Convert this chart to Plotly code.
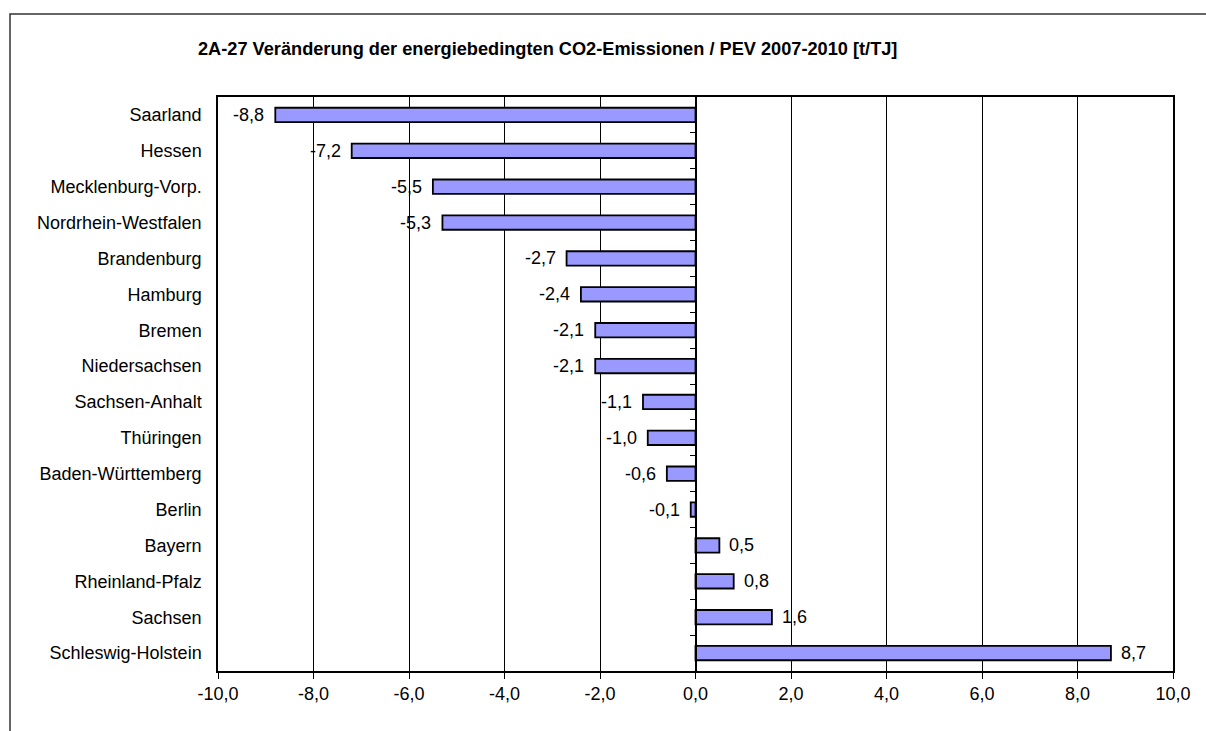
import plotly.graph_objects as go

# Federal states, top to bottom
laender = [
    "Saarland", "Hessen", "Mecklenburg-Vorp.", "Nordrhein-Westfalen",
    "Brandenburg", "Hamburg", "Bremen", "Niedersachsen", "Sachsen-Anhalt",
    "Thüringen", "Baden-Württemberg", "Berlin", "Bayern", "Rheinland-Pfalz",
    "Sachsen", "Schleswig-Holstein",
]
# Change of energy-related CO2 emissions per PEV 2007-2010 [t/TJ]
veraenderung = [
    -8.8, -7.2, -5.5, -5.3, -2.7, -2.4, -2.1, -2.1, -1.1,
    -1.0, -0.6, -0.1, 0.5, 0.8, 1.6, 8.7,
]
x_ticks = [-10, -8, -6, -4, -2, 0, 2, 4, 6, 8, 10]

title = "2A-27 Veränderung der energiebedingten CO2-Emissionen / PEV 2007-2010 [t/TJ]"


def de(v):
    return f"{v:.1f}".replace(".", ",")


W, H = 1206, 731
ML, MR, MT, MB = 218, 33, 97, 60
FONT = "Liberation Sans, Arial, sans-serif"

fig = go.Figure()
fig.add_trace(go.Bar(
    y=laender, x=veraenderung, orientation="h", width=0.4,
    marker=dict(color="#9999FF", line=dict(color="#000000", width=1.8)),
    hoverinfo="x+y", showlegend=False,
))
# empty trace so the axis through x = 0 gets its own subplot
fig.add_trace(go.Scatter(x=[], y=[], yaxis="y2", showlegend=False,
                         hoverinfo="skip"))

# value labels beside each bar end
for name, v in zip(laender, veraenderung):
    fig.add_annotation(
        x=v, y=name, text=de(v), showarrow=False,
        xanchor="right" if v < 0 else "left",
        xshift=-9 if v < 0 else 8,
        font=dict(family=FONT, size=18, color="#000000"),
    )

n = len(laender)
fig.update_layout(
    width=W, height=H,
    margin=dict(l=ML, r=MR, t=MT, b=MB),
    paper_bgcolor="white", plot_bgcolor="white",
    font=dict(family=FONT, size=18, color="#000000"),
    title=dict(
        text=title, xref="container", yref="container",
        x=198 / W, xanchor="left", y=1 - 49 / H, yanchor="middle",
        font=dict(family=FONT, size=18.2, color="#000000", weight="bold"),
    ),
    xaxis=dict(
        range=[-10, 10], tickvals=x_ticks, ticktext=[de(t) for t in x_ticks],
        showgrid=True, gridcolor="#000000", gridwidth=1,
        zeroline=False, showline=True, linecolor="#000000", linewidth=1.5,
        mirror=True, ticks="outside", ticklen=6, tickcolor="#000000",
        tickfont=dict(size=18), fixedrange=True,
    ),
    yaxis=dict(
        type="category", categoryorder="array", categoryarray=laender,
        range=[n - 0.5, -0.5], showgrid=False, zeroline=False,
        showline=True, linecolor="#000000", linewidth=1.5, mirror=True,
        ticks="", ticklabelstandoff=11, tickfont=dict(size=18),
        fixedrange=True,
    ),
    # category axis drawn through x = 0 with marks between the bars
    yaxis2=dict(
        overlaying="y", anchor="free", position=0.5, side="left",
        range=[n - 0.5, -0.5], tickvals=[i + 0.5 for i in range(n - 1)],
        showticklabels=False, ticks="outside", ticklen=5,
        tickcolor="#000000", tickwidth=1.2, showgrid=False, zeroline=False,
        showline=True, linecolor="#000000", linewidth=1.5,
        fixedrange=True,
    ),
    bargap=0.6,
)

# outer chart frame
pw, ph = W - ML - MR, H - MT - MB
fig.add_shape(
    type="rect", xref="paper", yref="paper",
    x0=(10 - ML) / pw, x1=(W + 20 - ML) / pw,
    y0=-(H + 20 - MT - ph) / ph, y1=1 + (MT - 14) / ph,
    line=dict(color="#333333", width=1.5), fillcolor="rgba(0,0,0,0)",
    layer="below",
)

fig.write_html("out.html", config={"displayModeBar": False})
